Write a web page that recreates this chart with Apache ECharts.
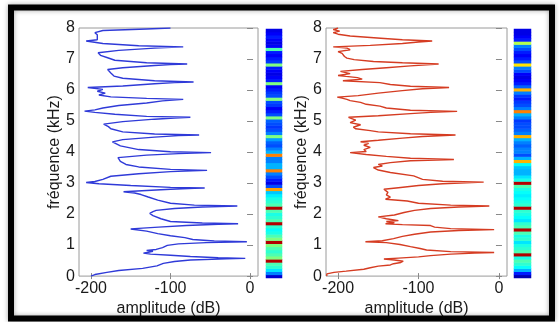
<!DOCTYPE html>
<html><head><meta charset="utf-8">
<script src="https://cdn.jsdelivr.net/npm/echarts@6/dist/echarts.min.js"></script>
<style>html,body{margin:0;padding:0;background:#fff}#c{width:560px;height:322px}</style>
</head><body><div id="c"></div>
<script>
// ---- data ----
const freqBlue = [0.00,0.05,0.12,0.18,0.25,0.33,0.41,0.47,0.52,0.555,0.57,0.59,0.63,0.67,0.71,0.74,0.77,0.80,0.83,0.86,0.92,0.99,1.04,1.08,1.11,1.13,1.18,1.24,1.30,1.37,1.45,1.52,1.54,1.58,1.63,1.67,1.69,1.71,1.76,1.85,1.95,2.02,2.08,2.12,2.18,2.23,2.26,2.29,2.35,2.45,2.55,2.63,2.68,2.72,2.76,2.80,2.83,2.84,2.86,2.92,2.98,3.02,3.05,3.12,3.22,3.30,3.37,3.41,3.44,3.52,3.60,3.70,3.82,3.90,3.95,3.98,4.01,4.08,4.20,4.33,4.40,4.48,4.53,4.55,4.58,4.65,4.75,4.82,4.90,4.98,5.06,5.10,5.12,5.15,5.22,5.28,5.32,5.36,5.42,5.50,5.58,5.65,5.70,5.73,5.78,5.84,5.90,5.96,6.02,6.08,6.13,6.20,6.24,6.26,6.30,6.38,6.45,6.55,6.66,6.72,6.79,6.82,6.84,6.88,6.96,7.04,7.12,7.20,7.28,7.35,7.39,7.43,7.50,7.58,7.62,7.68,7.78,7.85,7.92,7.97,8.00];
const ampBlue = [-200,-195,-180,-165,-135,-117,-109,-95,-75,-30,-6,-40,-75,-100,-125,-134,-128,-122,-130,-118,-110,-104,-90,-55,-4,-45,-72,-82,-100,-116,-130,-150,-140,-115,-80,-40,-15,-60,-100,-112,-122,-126,-122,-118,-95,-60,-16,-70,-100,-116,-128,-137,-145,-159,-130,-100,-70,-57,-100,-150,-190,-206,-195,-185,-175,-140,-100,-54,-100,-140,-156,-163,-166,-130,-90,-49,-100,-140,-163,-173,-160,-120,-90,-64,-120,-160,-175,-178,-184,-160,-120,-95,-75,-130,-170,-195,-208,-195,-185,-165,-130,-110,-84,-130,-175,-190,-182,-192,-185,-204,-160,-120,-95,-71,-120,-160,-171,-175,-179,-160,-120,-100,-79,-130,-170,-179,-188,-191,-165,-120,-84,-140,-185,-206,-192,-190,-192,-195,-185,-130,-100];
const freqRed = [0.00,0.07,0.12,0.16,0.22,0.27,0.32,0.36,0.40,0.44,0.48,0.52,0.55,0.58,0.62,0.66,0.71,0.74,0.76,0.79,0.84,0.89,0.95,1.02,1.08,1.11,1.14,1.21,1.28,1.35,1.42,1.47,1.50,1.53,1.58,1.63,1.66,1.69,1.72,1.76,1.79,1.85,1.91,1.97,2.05,2.12,2.18,2.23,2.26,2.29,2.35,2.42,2.48,2.55,2.62,2.70,2.80,2.85,2.92,2.98,3.03,3.06,3.12,3.23,3.34,3.42,3.50,3.55,3.60,3.66,3.72,3.76,3.80,3.86,3.92,3.98,4.02,4.08,4.15,4.22,4.28,4.33,4.38,4.45,4.50,4.55,4.59,4.65,4.69,4.75,4.80,4.88,4.95,5.03,5.08,5.12,5.17,5.24,5.28,5.31,5.35,5.42,5.48,5.54,5.60,5.66,5.70,5.74,5.77,5.82,5.90,5.98,6.04,6.08,6.12,6.18,6.24,6.30,6.35,6.40,6.44,6.47,6.53,6.60,6.66,6.72,6.78,6.84,6.88,6.92,6.98,7.03,7.08,7.13,7.18,7.24,7.30,7.35,7.39,7.44,7.50,7.55,7.58,7.62,7.67,7.74,7.80,7.85,7.90,7.95,8.00];
const ampRed = [-214,-214,-205,-190,-168,-160,-150,-135,-131,-122,-119,-130,-143,-125,-100,-85,-60,-30,-6,-60,-90,-98,-110,-123,-140,-166,-145,-131,-120,-105,-85,-50,-6,-60,-80,-85,-120,-141,-130,-140,-125,-140,-150,-130,-118,-105,-85,-50,-12,-60,-100,-114,-141,-135,-140,-138,-143,-125,-100,-70,-19,-70,-95,-106,-135,-150,-156,-145,-150,-135,-110,-56,-110,-140,-165,-185,-165,-168,-160,-168,-162,-172,-150,-120,-95,-54,-110,-150,-160,-178,-181,-172,-185,-178,-183,-187,-150,-110,-85,-52,-110,-140,-148,-165,-172,-185,-189,-195,-201,-175,-150,-120,-95,-62,-110,-135,-148,-194,-170,-176,-190,-200,-185,-197,-170,-140,-110,-75,-120,-156,-180,-189,-192,-191,-195,-200,-185,-189,-206,-160,-120,-100,-83,-120,-147,-185,-200,-206,-198,-206,-200];
// colour strips: 80 bins of 0.1 kHz, bottom (0 kHz) to top (8 kHz), jet scale 0..1
const stripBlue = [0.08,0.25,0.35,0.42,0.45,0.95,0.5,0.45,0.42,0.45,0.5,0.95,0.5,0.45,0.4,0.38,0.42,0.95,0.45,0.42,0.4,0.45,0.95,0.45,0.42,0.4,0.36,0.32,0.72,0.2,0.1,0.15,0.2,0.25,0.75,0.3,0.3,0.25,0.25,0.75,0.3,0.25,0.2,0.22,0.28,0.5,0.25,0.2,0.18,0.2,0.22,0.5,0.2,0.15,0.12,0.18,0.2,0.5,0.2,0.18,0.15,0.12,0.5,0.15,0.12,0.1,0.12,0.15,0.5,0.18,0.15,0.12,0.15,0.45,0.12,0.1,0.12,0.15,0.12,0.1];
const stripRed = [0.05,0.15,0.3,0.38,0.42,0.45,0.4,0.95,0.45,0.42,0.4,0.35,0.42,0.4,0.45,0.95,0.45,0.42,0.35,0.38,0.4,0.42,0.95,0.42,0.4,0.38,0.36,0.38,0.4,0.45,0.95,0.4,0.35,0.3,0.3,0.32,0.38,0.7,0.3,0.2,0.25,0.25,0.22,0.25,0.3,0.7,0.25,0.22,0.2,0.2,0.18,0.25,0.3,0.75,0.25,0.2,0.18,0.15,0.18,0.25,0.7,0.22,0.15,0.12,0.1,0.12,0.2,0.25,0.65,0.2,0.15,0.12,0.15,0.2,0.25,0.55,0.15,0.12,0.1,0.1];
const xTicks = [-200, -100, 0];
const yLabelText = 'fréquence (kHz)';
const xLabelText = 'amplitude (dB)';

const FONT = 'Liberation Sans, Arial, Helvetica, sans-serif';
const chart = echarts.init(document.getElementById('c'), null, {renderer: 'canvas'});
const pairs = (f, a) => f.map((v, i) => [a[i], v]);
const bins = stripBlue.map((_, i) => String(i));
const cells = s => s.map((v, i) => [0, i, v]);

function valX(grid, pos, label) {
  return {
    type: 'value', gridIndex: grid, position: pos, min: -215, max: 10,
    axisLine: {show: false},
    axisTick: {show: true, inside: true, length: 3, customValues: xTicks, lineStyle: {color: '#888'}},
    axisLabel: {show: label, customValues: xTicks, fontSize: 16, color: '#1a1a1a', fontFamily: FONT, margin: 4},
    splitLine: {show: false},
    name: label ? xLabelText : '', nameLocation: 'middle', nameGap: 15,
    nameTextStyle: {fontSize: 16, color: '#1a1a1a', fontFamily: FONT}
  };
}
function valY(grid, pos, label) {
  return {
    type: 'value', gridIndex: grid, position: pos, min: 0, max: 8, interval: 1,
    axisLine: {show: false},
    axisTick: {show: true, inside: true, length: 3, lineStyle: {color: '#888'}},
    axisLabel: {show: label, fontSize: 16, color: '#1a1a1a', fontFamily: FONT, margin: 4},
    splitLine: {show: false},
    name: label ? yLabelText : '', nameLocation: 'middle', nameGap: 15,
    nameTextStyle: {fontSize: 16, color: '#1a1a1a', fontFamily: FONT}
  };
}
const jet = ['#000080','#0000ff','#0080ff','#00ffff','#80ff80','#ffff00','#ff8000','#ff0000','#800000'];

chart.setOption({
  animation: false,
  backgroundColor: '#ffffff',
  grid: [
    {left: 79, top: 28, width: 179, height: 251, show: true, borderColor: '#9a9a9a', borderWidth: 1, backgroundColor: '#fff'},
    {left: 326, top: 28, width: 181, height: 251, show: true, borderColor: '#9a9a9a', borderWidth: 1, backgroundColor: '#fff'},
    {left: 266, top: 29, width: 16, height: 249},
    {left: 514, top: 29, width: 17, height: 249}
  ],
  xAxis: [
    valX(0, 'bottom', true), valX(1, 'bottom', true),
    {type: 'category', gridIndex: 2, data: ['a'], show: false},
    {type: 'category', gridIndex: 3, data: ['a'], show: false},
    valX(0, 'top', false), valX(1, 'top', false)
  ],
  yAxis: [
    valY(0, 'left', true), valY(1, 'left', true),
    {type: 'category', gridIndex: 2, data: bins, show: false},
    {type: 'category', gridIndex: 3, data: bins, show: false},
    valY(0, 'right', false), valY(1, 'right', false)
  ],
  visualMap: [{type: 'continuous', min: 0, max: 1, show: false, seriesIndex: [2, 3], inRange: {color: jet}}],
  series: [
    {type: 'line', xAxisIndex: 0, yAxisIndex: 0, data: pairs(freqBlue, ampBlue), showSymbol: false, lineStyle: {color: '#2f3ad8', width: 1.4}, z: 3},
    {type: 'line', xAxisIndex: 1, yAxisIndex: 1, data: pairs(freqRed, ampRed), showSymbol: false, lineStyle: {color: '#d53c22', width: 1.4}, z: 3},
    {type: 'heatmap', xAxisIndex: 2, yAxisIndex: 2, data: cells(stripBlue)},
    {type: 'heatmap', xAxisIndex: 3, yAxisIndex: 3, data: cells(stripRed)}
  ],
  graphic: [{
    type: 'rect', silent: true, z: 100,
    shape: {x: 11, y: 7.5, width: 541, height: 311},
    style: {fill: 'none', stroke: '#000', lineWidth: 6, shadowColor: 'rgba(0,0,0,0.35)', shadowBlur: 5}
  }]
});
</script></body></html>
